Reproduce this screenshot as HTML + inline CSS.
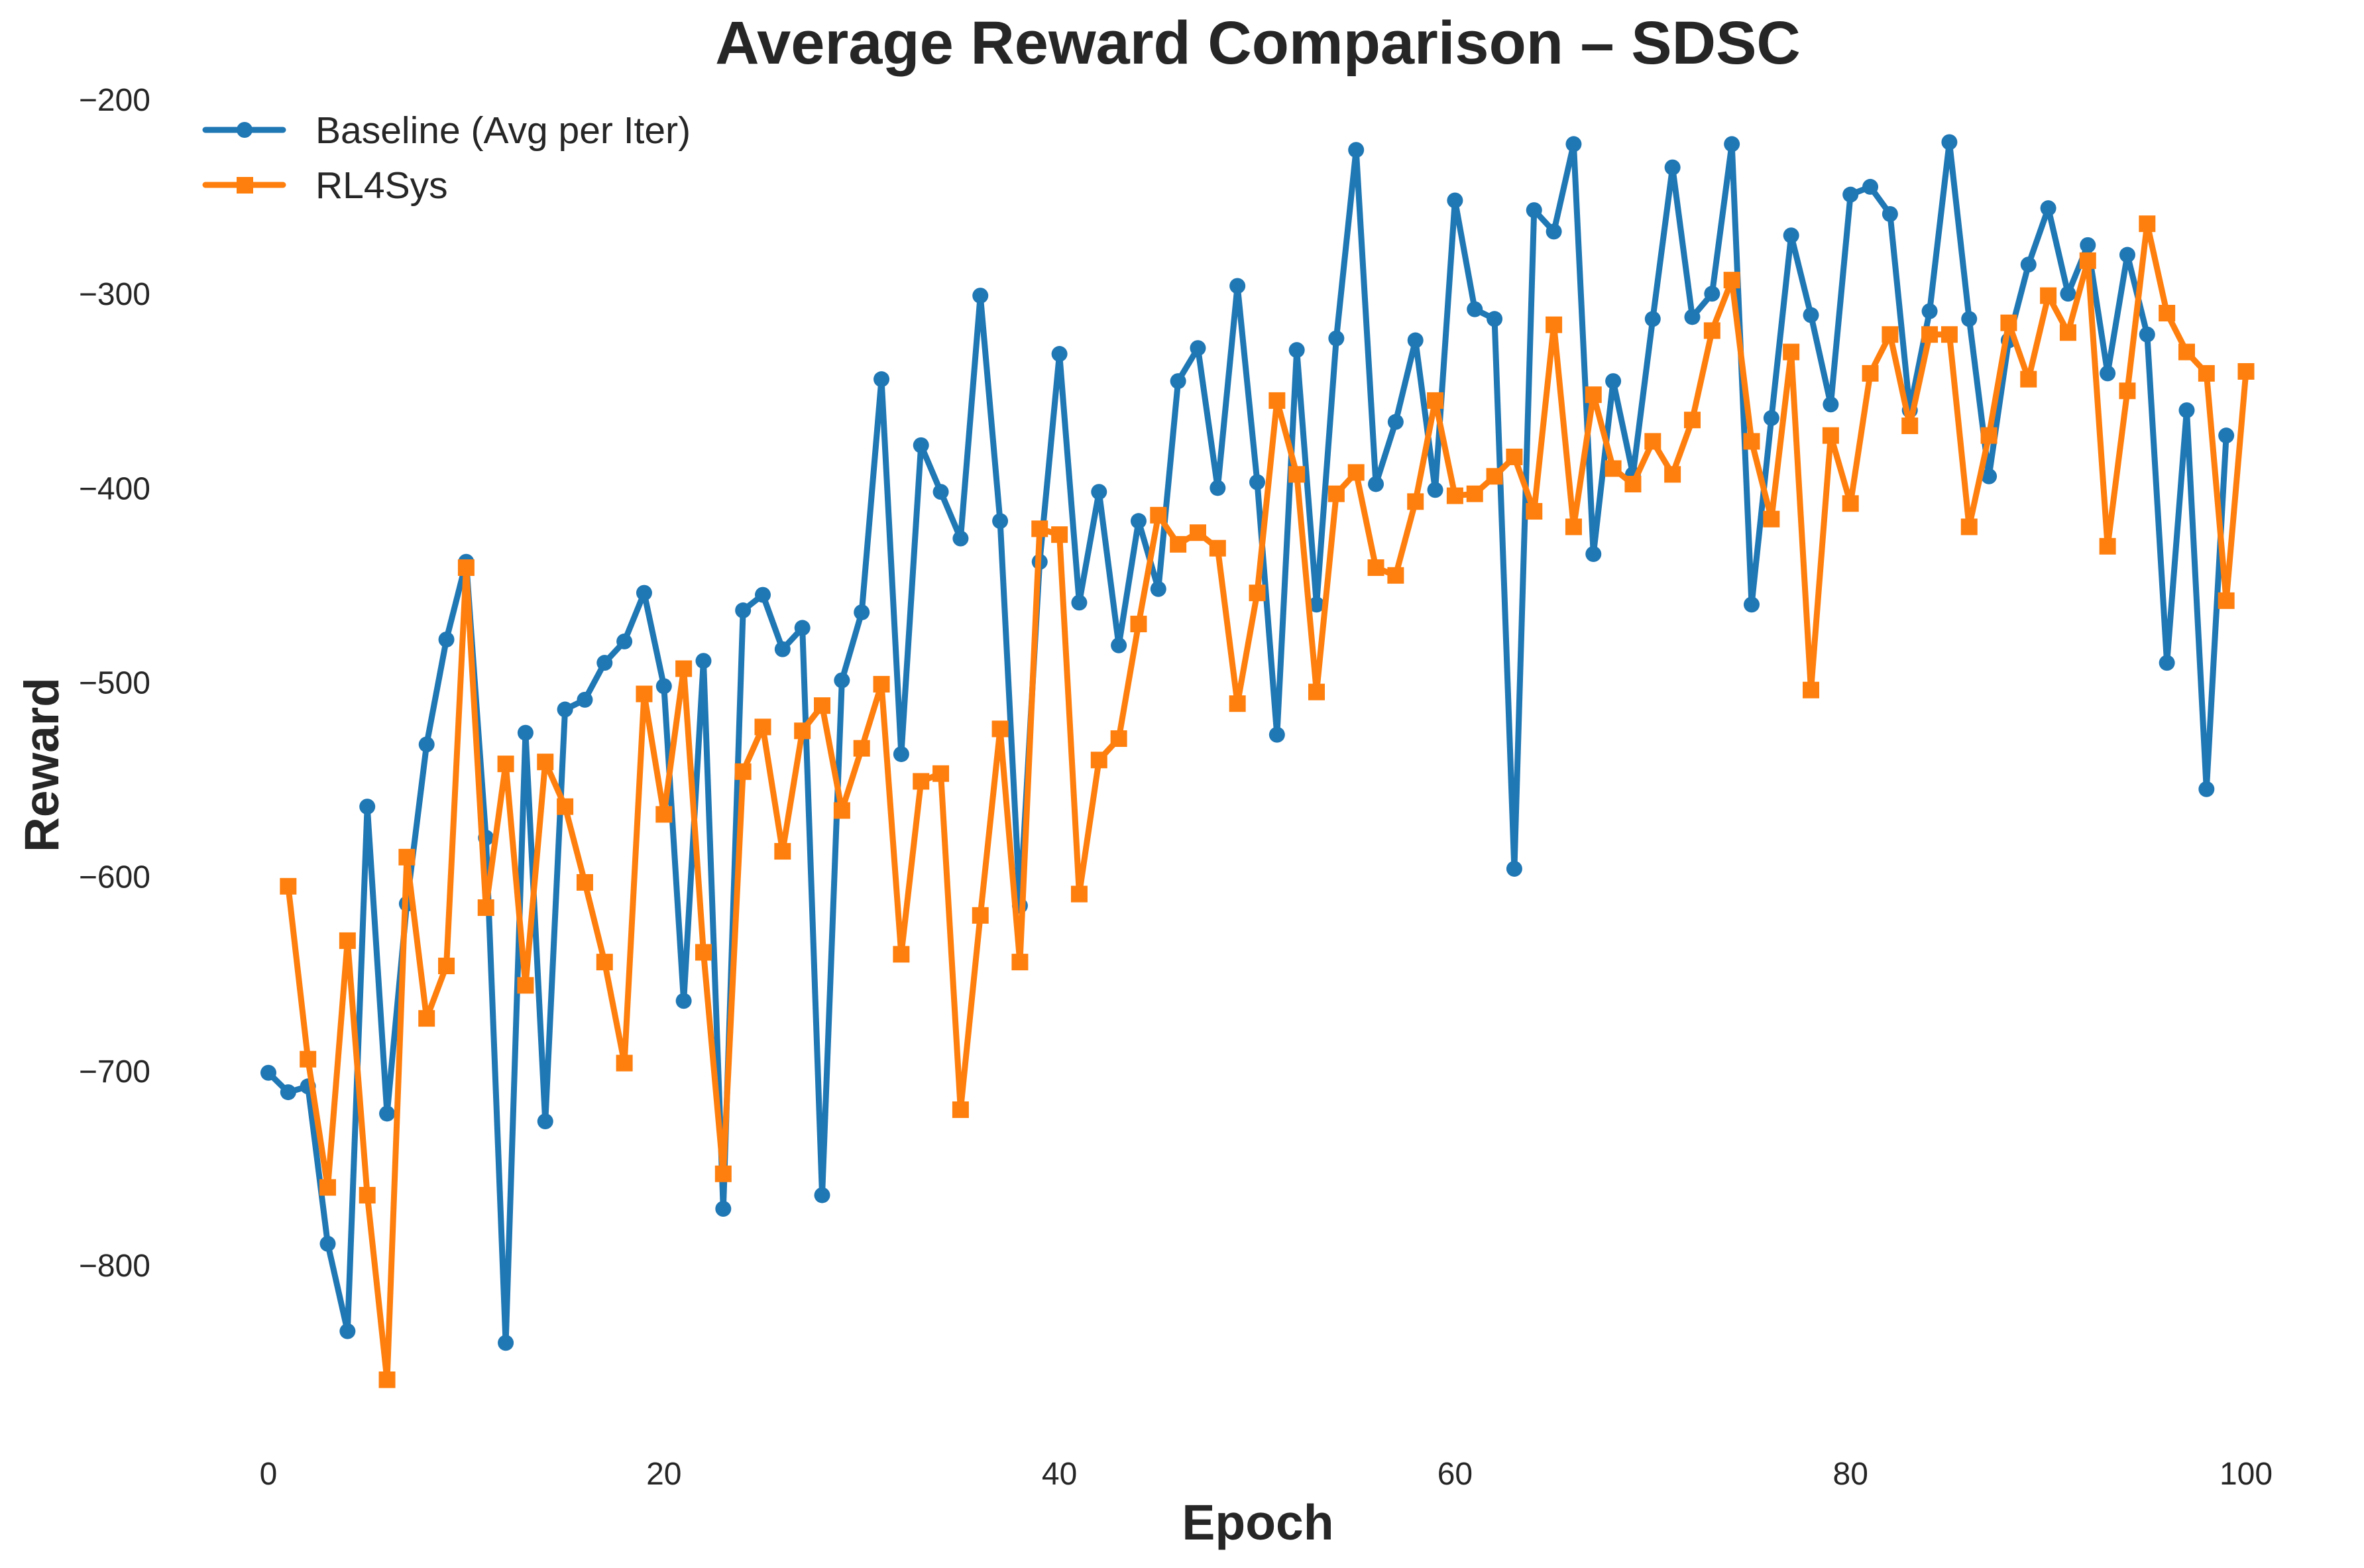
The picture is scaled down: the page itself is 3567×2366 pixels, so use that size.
<!DOCTYPE html>
<html><head><meta charset="utf-8"><style>
html,body{margin:0;padding:0;background:#fff;}
svg{display:block;font-family:"Liberation Sans",sans-serif;}
</style></head><body>
<svg id="chart" width="3567" height="2366" viewBox="0 0 3567 2366" xmlns="http://www.w3.org/2000/svg">
<rect width="3567" height="2366" fill="#fff"/>
<text x="1898" y="96" text-anchor="middle" font-size="92" font-weight="bold" fill="#262626">Average Reward Comparison – SDSC</text>
<text x="1898" y="2323" text-anchor="middle" font-size="75" font-weight="bold" fill="#262626">Epoch</text>
<text transform="translate(88,1154) rotate(-90)" text-anchor="middle" font-size="73" font-weight="bold" fill="#262626">Reward</text>
<g id="ticks"></g>
<g id="series"></g>
<g>
<line x1="310" y1="196" x2="427" y2="196" stroke="#1f77b4" stroke-width="9" stroke-linecap="round"/>
<circle cx="369" cy="196" r="12" fill="#1f77b4"/>
<text x="476" y="216" font-size="57" fill="#262626">Baseline (Avg per Iter)</text>
<line x1="310" y1="279" x2="427" y2="279" stroke="#ff7f0e" stroke-width="9" stroke-linecap="round"/>
<rect x="357" y="267" width="25" height="25" fill="#ff7f0e"/>
<text x="476" y="299" font-size="57" fill="#262626">RL4Sys</text>
</g>
</svg>
<script>
const baseline=[-701,-711,-708,-789,-834,-564,-722,-614,-532,-478,-438,-580,-840,-526,-726,-514,-509,-490,-479,-454,-502,-664,-489,-771,-463,-455,-483,-472,-764,-499,-464,-344,-537,-378,-402,-426,-301,-417,-615,-438,-331,-459,-402,-481,-417,-452,-345,-328,-400,-296,-397,-527,-329,-460,-323,-226,-398,-366,-324,-401,-252,-308,-313,-596,-257,-268,-223,-434,-345,-393,-313,-235,-312,-300,-223,-460,-364,-270,-311,-357,-249,-245,-259,-360,-309,-222,-313,-394,-324,-285,-256,-300,-275,-341,-280,-321,-490,-360,-555,-373];
const rl4sys=[-605,-694,-760,-633,-764,-859,-590,-673,-646,-441,-616,-542,-656,-541,-564,-603,-644,-696,-506,-568,-493,-639,-753,-546,-523,-587,-525,-512,-566,-534,-501,-640,-551,-547,-720,-620,-524,-644,-421,-424,-609,-540,-529,-470,-414,-429,-423,-431,-511,-454,-355,-393,-505,-403,-392,-441,-445,-407,-355,-404,-403,-394,-384,-412,-316,-420,-352,-390,-398,-376,-393,-365,-319,-293,-376,-416,-330,-504,-373,-408,-341,-321,-368,-321,-321,-420,-373,-315,-344,-301,-320,-283,-430,-350,-264,-310,-330,-341,-458,-340];
const rlStart=1;
const xTicks=[0,20,40,60,80,100];
const yTicks=[-200,-300,-400,-500,-600,-700,-800];
const NS="http://www.w3.org/2000/svg";
function xs(v){return 405+(v/100)*(3389-405);}
function ys(v){return 150+((-200-v)/600)*(1909-150);}
const tg=document.getElementById('ticks');
const sg=document.getElementById('series');
xTicks.forEach(t=>{const e=document.createElementNS(NS,'text');


e.setAttribute('x',xs(t));e.setAttribute('y',2240);e.setAttribute('text-anchor','middle');e.setAttribute('font-size','48');e.setAttribute('fill','#262626');e.textContent=t;tg.appendChild(e);});
yTicks.forEach(t=>{const e=document.createElementNS(NS,'text');


e.setAttribute('x',227);e.setAttribute('y',ys(t)+17);e.setAttribute('text-anchor','end');e.setAttribute('font-size','48');e.setAttribute('fill','#262626');e.textContent='\u2212'+Math.abs(t);tg.appendChild(e);});
function drawSeries(vals,start,color,marker,name){
const pts=vals.map((v,i)=>[xs(i+start),ys(v)]);
const pl=document.createElementNS(NS,'polyline');


pl.setAttribute('points',pts.map(p=>p.join(',')).join(' '));
pl.setAttribute('fill','none');pl.setAttribute('stroke',color);pl.setAttribute('stroke-width','9');pl.setAttribute('stroke-linejoin','round');
sg.appendChild(pl);
pts.forEach(p=>{let m;
if(marker==='circle'){m=document.createElementNS(NS,'circle');m.setAttribute('cx',p[0]);m.setAttribute('cy',p[1]);m.setAttribute('r',12);}
else{m=document.createElementNS(NS,'rect');m.setAttribute('x',p[0]-12.5);m.setAttribute('y',p[1]-12.5);m.setAttribute('width',25);m.setAttribute('height',25);}


m.setAttribute('fill',color);sg.appendChild(m);});
}
drawSeries(baseline,0,'#1f77b4','circle','baseline');
drawSeries(rl4sys,rlStart,'#ff7f0e','square','rl4sys');
</script>
</body></html>
